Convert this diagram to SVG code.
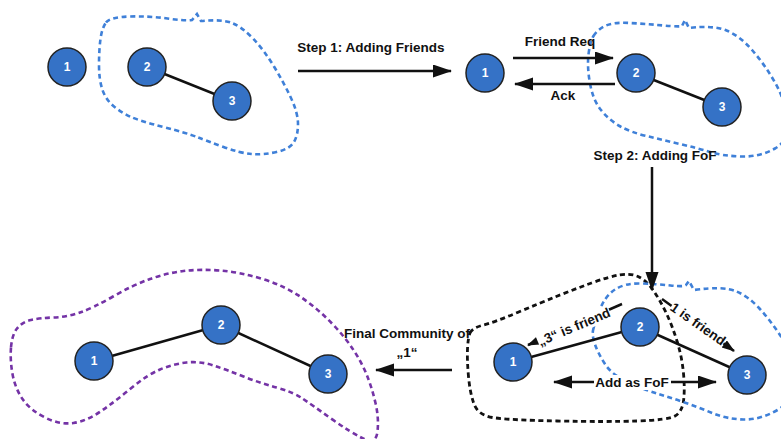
<svg xmlns="http://www.w3.org/2000/svg" width="781" height="439" viewBox="0 0 781 439">
  <style>
    .node circle { fill: #3572c6; stroke: #222; stroke-width: 1.5; }
    .node text { fill: #fff; font-family: "Liberation Sans", Arial, sans-serif; font-weight: bold; font-size: 12px; text-anchor: middle; dominant-baseline: central; }
    .edge { stroke: #111; stroke-width: 2.5; fill: none; }
    .arrow { stroke: #111; stroke-width: 2.5; fill: none; }
    .label { fill: #111; font-family: "Liberation Sans", Arial, sans-serif; font-weight: bold; font-size: 13.5px; text-anchor: middle; }
    .bg { fill: #fff; }
    .blob { fill: none; stroke-width: 2.6; stroke-dasharray: 5 3.5; stroke-linecap: butt; }
    .blue { stroke: #3f80d8; }
    .black { stroke: #111; stroke-width: 2.8; }
    .purple { stroke: #7433a6; }
  </style>
  <defs>
    <marker id="head" markerUnits="userSpaceOnUse" markerWidth="20" markerHeight="14" refX="18" refY="6.5" orient="auto-start-reverse">
      <path d="M0,0 L19,6.5 L0,13 Z" fill="#111"/>
    </marker>
    <marker id="headSmall" markerUnits="userSpaceOnUse" markerWidth="14" markerHeight="10" refX="12" refY="4.5" orient="auto">
      <path d="M0,0 L13,4.5 L0,9 Z" fill="#111"/>
    </marker>
  </defs>

  <rect width="781" height="439" fill="#fff"/>

  <!-- community outlines -->
  <g id="communities">
    <path class="blob blue" d="M106,22.5 Q110,17 130,16.5 Q150,16 167.5,18.5 Q185,21 192,20 L197,14 L201,21 Q222,19 232,23 Q242,27 253,38.5 Q264,50 274,66.5 Q284,83 291,98 Q298,113 298,124 Q298,135 294,142 Q290,149 276.5,152 Q263,155 251.5,154 Q240,153 223.5,147 Q207,141 197,137 Q187,133 163.5,127 Q140,121 131,117 Q122,113 114,106.5 Q106,100 102.5,90 Q99,80 99,65 Q99,50 100.5,39 Q102,28 106,22.5 Z"/>
    <path class="blob blue" d="M593.5,36 Q597,30 605,26 Q613,22 630,23 Q647,24 663.5,25.5 Q680,27 682,26 L685,20 L689,28 Q713,25 726.5,30.5 Q740,36 752.5,50.5 Q765,65 775,82.5 Q785,100 787.5,120 Q790,140 775,148.5 Q760,157 741.5,156.5 Q723,156 710,152 Q697,148 680,144 Q663,140 646.5,136 Q630,132 619.5,126 Q609,120 601,110 Q593,100 590,83.5 Q587,67 588.5,54.5 Q590,42 593.5,36 Z"/>
    <path class="blob black" d="M470,333 Q472,328 483.5,325 Q495,322 517.5,312.5 Q540,303 557.5,296 Q575,289 591.5,283 Q608,277 619,275 Q630,273 638,276.5 Q646,280 653,290 Q660,300 666,312.5 Q672,325 677,341 Q682,357 683.5,373.5 Q685,390 683.5,401 Q682,412 675,416 Q668,420 637.5,421 Q607,422 557,421 Q507,420 492.5,417.5 Q478,415 474,404 Q470,393 468.5,376.5 Q467,360 467.5,349 Q468,338 470,333 Z"/>
    <path class="blob blue" d="M593,330.5 Q594,325 599.5,310.5 Q605,296 615,289.5 Q625,283 641,283.5 Q657,284 670.5,285.5 Q684,287 686,285 L689,281 L694,290 Q723,286 735.5,291 Q748,296 759,308 Q770,320 780,335 Q790,350 792.5,375 Q795,400 777.5,410 Q760,420 743.5,419.5 Q727,419 713.5,413.5 Q700,408 686,403 Q672,398 658.5,394 Q645,390 628.5,382.5 Q612,375 605,364 Q598,353 595,344.5 Q592,336 593,330.5 Z"/>
    <path class="blob purple" d="M11,347.5 Q12,335 17,328.5 Q22,322 31,320 Q40,318 53.5,317.5 Q67,317 80,312.5 Q93,308 113,296.5 Q133,285 150,279 Q167,273 183.5,271 Q200,269 220,270.5 Q240,272 262.5,279 Q285,286 301.5,297.5 Q318,309 331.5,323 Q345,337 353.5,350 Q362,363 367,375.5 Q372,388 375.5,403 Q379,418 377.5,431.5 Q376,445 363,438.5 Q350,432 331,418.5 Q312,405 302.5,398.5 Q293,392 276.5,387.5 Q260,383 243.5,376.5 Q227,370 213.5,365.5 Q200,361 186.5,362.5 Q173,364 160,369.5 Q147,375 132,387.5 Q117,400 102,410.5 Q87,421 73.5,423 Q60,425 45,417.5 Q30,410 22.5,399 Q15,388 12.5,374 Q10,360 11,347.5 Z"/>
  </g>

  <!-- edges and process arrows -->
  <g id="connectors">
    <line class="edge" x1="147" y1="67" x2="232" y2="101"/>
    <line class="edge" x1="636" y1="73" x2="722" y2="107"/>
    <line class="edge" x1="513" y1="362" x2="640" y2="327"/>
    <line class="edge" x1="640" y1="327" x2="747" y2="375"/>
    <line class="edge" x1="94" y1="361" x2="221" y2="325"/>
    <line class="edge" x1="221" y1="325" x2="328" y2="374"/>

    <line class="arrow" x1="298" y1="71" x2="451" y2="71" marker-end="url(#head)"/>
    <line class="arrow" x1="513" y1="58" x2="613" y2="58" marker-end="url(#head)"/>
    <line class="arrow" x1="615" y1="84" x2="515" y2="84" marker-end="url(#head)"/>
    <line class="arrow" x1="652" y1="167" x2="652" y2="290" marker-end="url(#head)"/>
    <line class="arrow" x1="452" y1="370" x2="376" y2="370" marker-end="url(#head)"/>
    <line class="arrow" x1="554" y1="382" x2="716" y2="382" marker-start="url(#head)" marker-end="url(#head)"/>
    <line class="arrow" x1="622" y1="304" x2="528" y2="345" stroke-width="2" marker-end="url(#headSmall)"/>
    <line class="arrow" x1="662" y1="299" x2="734" y2="351" stroke-width="2" marker-end="url(#headSmall)"/>
  </g>

  <!-- labels -->
  <g id="labels">
    <text class="label" x="371" y="52">Step 1: Adding Friends</text>
    <text class="label" x="560" y="46">Friend Req</text>
    <text class="label" x="563" y="100">Ack</text>
    <text class="label" x="655" y="160">Step 2: Adding FoF</text>
    <text class="label" x="407" y="338">Final Community of</text>
    <text class="label" x="407" y="357">„1“</text>
    <rect class="bg" x="594" y="375" width="77" height="15"/>
    <text class="label" x="632" y="387">Add as FoF</text>
    <g transform="translate(574,327) rotate(-23)">
      <rect class="bg" x="-39" y="-7.5" width="78" height="15"/>
      <text class="label" x="0" y="0" dominant-baseline="central">„3“ is friend</text>
    </g>
    <g transform="translate(698,324) rotate(35)">
      <rect class="bg" x="-32" y="-7.5" width="64" height="15"/>
      <text class="label" x="0" y="0" dominant-baseline="central">1 is friend</text>
    </g>
  </g>

  <!-- nodes -->
  <g id="tl-n1" class="node"><circle cx="67" cy="67" r="19"/><text x="67" y="67">1</text></g>
  <g id="tl-n2" class="node"><circle cx="147" cy="67" r="19"/><text x="147" y="67">2</text></g>
  <g id="tl-n3" class="node"><circle cx="232" cy="101" r="19"/><text x="232" y="101">3</text></g>

  <g id="tr-n1" class="node"><circle cx="485" cy="73" r="19"/><text x="485" y="73">1</text></g>
  <g id="tr-n2" class="node"><circle cx="636" cy="73" r="19"/><text x="636" y="73">2</text></g>
  <g id="tr-n3" class="node"><circle cx="722" cy="107" r="19"/><text x="722" y="107">3</text></g>

  <g id="br-n1" class="node"><circle cx="513" cy="362" r="19"/><text x="513" y="362">1</text></g>
  <g id="br-n2" class="node"><circle cx="640" cy="327" r="19"/><text x="640" y="327">2</text></g>
  <g id="br-n3" class="node"><circle cx="747" cy="375" r="19"/><text x="747" y="375">3</text></g>

  <g id="bl-n1" class="node"><circle cx="94" cy="361" r="19"/><text x="94" y="361">1</text></g>
  <g id="bl-n2" class="node"><circle cx="221" cy="325" r="19"/><text x="221" y="325">2</text></g>
  <g id="bl-n3" class="node"><circle cx="328" cy="374" r="19"/><text x="328" y="374">3</text></g>
</svg>
